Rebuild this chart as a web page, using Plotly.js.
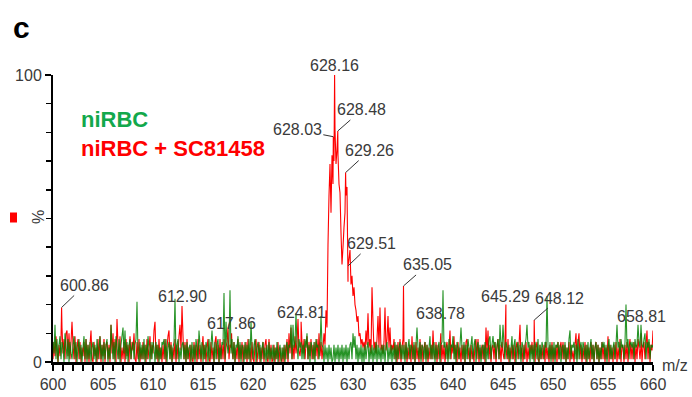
<!DOCTYPE html>
<html>
<head>
<meta charset="utf-8">
<script src="https://cdn.plot.ly/plotly-3.0.1.min.js"></script>
<style>
  html, body { margin: 0; padding: 0; background: #ffffff; }
  #chart { width: 692px; height: 397px; }
</style>
</head>
<body>
<div id="chart"></div>
<script>
// Profile spectra sampled every 0.1 m/z from 600.0 to 660.0 (relative intensity, %)
const MZ_START = 600;
const MZ_STEP = 0.1;

// niRBC + SC81458 (red trace); one line per m/z unit, values at .0 .. .9
const redIntensity = [
  1,7,2,9,4,0,6,2,8,12,      // 600
  3,8,1,10,11,2,10,1,7,14,   // 601
  6,1,9,0,5,8,1,7,0,5,       // 602
  2,7,0,8,1,6,0,6,11,1,      // 603
  0,7,2,5,0,8,1,9,0,6,       // 604
  2,8,0,6,7,1,6,0,13,3,      // 605
  10,1,8,0,15,6,1,9,0,5,     // 606
  1,7,0,8,2,6,0,9,1,7,       // 607
  4,10,1,0,7,1,8,0,5,1,      // 608
  7,1,6,0,8,1,5,9,1,6,       // 609
  3,11,14,1,6,0,8,1,5,0,     // 610
  6,1,8,0,5,9,11,1,7,0,      // 611
  5,1,8,0,6,1,9,13,4,20,     // 612
  9,1,7,0,8,1,5,0,6,1,       // 613
  0,7,1,6,0,8,1,6,0,5,       // 614
  9,1,6,0,5,8,1,0,7,1,       // 615
  5,0,7,9,1,6,0,8,1,6,       // 616
  1,8,0,5,7,12,1,6,5,4,      // 617
  1,7,0,5,1,8,0,6,1,7,       // 618
  0,6,1,7,0,8,1,5,0,7,       // 619
  1,0,6,8,0,4,7,0,5,1,       // 620
  7,0,6,8,1,0,8,1,6,0,       // 621
  1,6,0,5,1,7,0,5,1,0,       // 622
  5,0,6,1,8,0,10,3,12,1,     // 623
  6,1,9,3,7,15,4,2,6,7,      // 624
  3,8,1,6,9,1,7,2,8,1,       // 625
  6,1,7,2,8,1,10,2,7,1,      // 626
  5,10,6,18,12,41,58,69,52,72,   // 627
  62,70,81,69,74,72,62,59,45,34, // 628
  40,47,52,58,61,28,36,39,27,30, // 629
  23,26,20,18,14,16,9,10,6,8,    // 630
  5,7,4,11,6,17,5,8,3,26,    // 631
  14,4,7,3,8,16,5,19,4,6,    // 632
  3,7,19,4,8,16,5,12,3,6,    // 633
  4,8,1,6,0,7,1,8,0,5,       // 634
  8,4,1,7,0,5,1,6,0,9,       // 635
  1,6,0,7,1,5,0,8,1,6,       // 636
  0,5,7,1,6,0,5,1,6,1,       // 637
  11,3,1,7,0,6,1,5,0,6,      // 638
  1,6,0,5,7,1,5,11,1,6,      // 639
  3,9,1,6,0,7,1,5,0,6,       // 640
  1,6,0,7,8,1,5,0,6,1,       // 641
  4,0,6,8,1,8,0,5,1,6,       // 642
  1,6,0,12,3,11,1,6,0,5,     // 643
  6,1,7,0,5,8,1,6,0,7,       // 644
  3,1,7,5,1,8,0,5,1,6,       // 645
  1,6,0,5,7,1,6,13,1,5,      // 646
  0,6,1,7,0,5,1,6,3,7,       // 647
  1,6,0,5,7,1,0,6,1,5,       // 648
  1,6,0,7,1,5,0,6,1,7,       // 649
  0,5,1,6,0,7,1,5,7,1,       // 650
  7,1,6,0,5,1,7,0,6,1,       // 651
  4,0,6,10,1,7,10,1,6,0,     // 652
  5,1,7,0,6,1,5,0,7,1,       // 653
  6,0,5,7,1,6,0,5,1,7,       // 654
  1,6,0,5,1,9,0,6,1,5,       // 655
  0,6,1,7,0,5,1,8,0,6,       // 656
  5,0,6,1,7,0,5,8,1,6,       // 657
  1,7,0,6,1,8,5,1,6,0,       // 658
  5,7,1,6,11,1,7,0,6,4,      // 659
  11                          // 660
];

// niRBC (green trace)
const greenIntensity = [
  7,3,13,1,8,0,6,9,1,7,      // 600
  5,0,10,6,1,8,0,7,3,1,      // 601
  6,9,1,7,0,5,8,1,6,0,       // 602
  5,9,1,8,0,6,1,7,0,5,       // 603
  7,1,6,0,8,1,5,9,1,6,       // 604
  0,7,1,6,8,0,5,1,13,6,      // 605
  1,7,0,9,5,1,8,0,6,9,       // 606
  12,3,11,1,7,0,6,8,1,5,     // 607
  7,1,6,8,21,3,0,7,1,6,      // 608
  1,8,0,6,1,9,5,0,7,1,       // 609
  7,5,0,7,1,6,0,5,1,7,       // 610
  6,8,1,8,0,5,7,1,6,0,       // 611
  5,7,22,1,6,8,0,5,1,6,      // 612
  7,1,6,0,7,1,5,6,0,7,       // 613
  1,6,0,8,5,1,11,6,1,7,      // 614
  0,6,1,7,5,0,8,1,6,11,      // 615
  5,0,7,1,6,8,0,5,1,7,       // 616
  6,24,1,14,7,3,6,25,3,8,    // 617
  1,7,0,6,5,9,1,7,0,6,       // 618
  5,0,7,1,6,1,8,0,14,5,      // 619
  1,6,8,0,5,7,1,6,0,5,       // 620
  7,1,5,0,6,1,7,0,5,1,       // 621
  6,0,5,1,7,0,4,6,0,5,       // 622
  1,6,0,5,7,1,6,5,13,1,      // 623
  13,5,7,17,6,1,8,5,7,1,     // 624
  6,1,8,5,10,1,6,0,7,5,      // 625
  1,7,0,8,5,6,1,5,16,6,      // 626
  5,0,6,1,5,0,6,1,5,0,       // 627
  1,6,0,5,1,6,0,5,1,6,       // 628
  0,5,1,6,0,5,1,6,7,1,       // 629
  10,5,9,1,6,0,5,1,6,0,      // 630
  5,0,6,1,5,7,0,5,1,6,       // 631
  0,5,1,7,0,6,1,5,0,6,       // 632
  1,6,0,5,7,0,5,1,6,0,       // 633
  5,1,7,0,6,1,5,7,1,6,       // 634
  1,6,0,7,1,5,8,1,6,5,       // 635
  1,7,0,6,12,5,1,7,0,6,      // 636
  5,1,7,0,6,1,5,9,1,6,       // 637
  1,7,0,6,1,5,7,0,6,7,       // 638
  25,5,7,1,6,0,8,1,6,5,      // 639
  9,1,6,0,7,5,1,6,12,5,      // 640
  1,7,0,6,1,8,5,0,6,9,       // 641
  1,6,8,0,5,7,1,6,0,5,       // 642
  6,1,7,0,5,1,8,9,1,6,       // 643
  9,5,7,1,6,8,1,13,6,5,      // 644
  13,6,1,7,5,1,6,0,5,9,      // 645
  1,6,8,0,5,7,1,6,0,7,       // 646
  5,1,6,8,13,5,7,0,6,1,      // 647
  6,0,7,5,1,8,0,6,1,7,       // 648
  5,1,7,5,23,6,1,7,0,6,      // 649
  1,7,0,6,5,7,1,6,0,5,       // 650
  6,1,7,0,5,1,8,11,1,6,      // 651
  5,7,1,6,0,8,1,5,7,1,       // 652
  7,5,1,6,0,7,1,5,8,1,       // 653
  6,0,5,7,1,6,0,5,1,7,       // 654
  5,7,1,6,0,5,8,1,6,1,       // 655
  5,7,1,6,13,5,7,1,8,5,      // 656
  6,1,7,20,5,8,1,6,7,5,      // 657
  7,1,8,5,6,13,7,5,13,6,     // 658
  5,8,10,1,7,5,8,1,6,5,      // 659
  6                           // 660
];

// Centroided peaks annotated on the red trace
const peakMz        = [600.86, 612.90, 617.86, 624.81, 628.03, 628.16, 628.48, 629.26, 629.51, 635.05, 638.78, 645.29, 648.12, 658.81];
const peakIntensity = [19,     19.5,   10,     14,     78.5,   100,    80.5,   66,     33.5,   26.5,   10,     20,     14.6,   10];

const xTickValues = [600, 605, 610, 615, 620, 625, 630, 635, 640, 645, 650, 655, 660];
const xTickLabels = ['600', '605', '610', '615', '620', '625', '630', '635', '640', '645', '650', '655', '660'];
const yTickValues = [0, 100];
const yTickLabels = ['0', '100'];

// Label placement: leader-line offset [ax, ay] in px, or a vertical shift for labels set on top of the peak
const labelPlacement = {
  '600.86': { ax: 23, ay: -22 },
  '612.90': { yshift: -1 },
  '617.86': { yshift: -1 },
  '624.81': { yshift: -1 },
  '628.03': { ax: -36, ay: -7 },
  '628.16': { yshift: -1 },
  '628.48': { ax: 24, ay: -21 },
  '629.26': { ax: 24, ay: -22 },
  '629.51': { ax: 23, ay: -22 },
  '635.05': { ax: 24, ay: -21 },
  '638.78': { yshift: 9 },
  '645.29': { yshift: -2 },
  '648.12': { ax: 25, ay: -22 },
  '658.81': { yshift: 6 }
};

function gridMz(n) {
  const xs = [];
  for (let i = 0; i < n; i++) xs.push(Math.round((MZ_START + i * MZ_STEP) * 100) / 100);
  return xs;
}

// merge sampled profile with the annotated centroid points
function buildProfile(values, extraMz, extraInt) {
  const pts = gridMz(values.length).map((x, i) => [x, values[i]]);
  if (extraMz) {
    extraMz.forEach((m, k) => {
      const same = pts.findIndex(p => Math.abs(p[0] - m) < 1e-6);
      if (same >= 0) pts[same][1] = extraInt[k];
      else pts.push([m, extraInt[k]]);
    });
  }
  pts.sort((a, b) => a[0] - b[0]);
  return { x: pts.map(p => p[0]), y: pts.map(p => p[1]) };
}

const red = buildProfile(redIntensity, peakMz, peakIntensity);
const green = buildProfile(greenIntensity);

const FONT = 'Liberation Sans, Arial, sans-serif';
const TEXT_GREY = '#3a3a3a';

const traces = [
  {
    type: 'scatter', mode: 'lines', x: red.x, y: red.y,
    line: { color: '#ff0000', width: 1.1, simplify: false },
    hoverinfo: 'skip', showlegend: false
  },
  {
    type: 'scatter', mode: 'lines', x: green.x, y: green.y,
    line: { color: 'rgba(0,128,0,0.85)', width: 1.1, simplify: false },
    hoverinfo: 'skip', showlegend: false
  }
];

const annotations = peakMz.map((m, k) => {
  const label = m.toFixed(2);
  const p = labelPlacement[label];
  const base = {
    x: m, y: peakIntensity[k], xref: 'x', yref: 'y', text: label,
    font: { family: FONT, size: 16, color: TEXT_GREY }
  };
  if (p.ax !== undefined) {
    return Object.assign(base, {
      showarrow: true, ax: p.ax, ay: p.ay, arrowhead: 0, arrowwidth: 1,
      arrowcolor: '#333333', standoff: 0
    });
  }
  return Object.assign(base, { showarrow: false, yanchor: 'bottom', yshift: p.yshift });
});

annotations.push(
  { xref: 'paper', yref: 'paper', x: 0, y: 1, xanchor: 'left', yanchor: 'middle',
    xshift: -42, yshift: 48, showarrow: false, text: '<b>c</b>',
    font: { family: FONT, size: 30, color: '#000000' } },
  { xref: 'paper', yref: 'paper', x: 0, y: 1, xanchor: 'left', yanchor: 'middle',
    xshift: 26, yshift: -44, showarrow: false, text: '<b>niRBC</b>',
    font: { family: FONT, size: 22, color: '#12a84c' } },
  { xref: 'paper', yref: 'paper', x: 0, y: 1, xanchor: 'left', yanchor: 'middle',
    xshift: 26, yshift: -73, showarrow: false, text: '<b>niRBC + SC81458</b>',
    font: { family: FONT, size: 22, color: '#ff0000' } },
  { xref: 'paper', yref: 'paper', x: 0, y: 0.505, xanchor: 'center', yanchor: 'middle',
    xshift: -15, showarrow: false, text: '%', textangle: -90,
    font: { family: FONT, size: 16, color: TEXT_GREY } },
  { xref: 'paper', yref: 'paper', x: 1, y: 0, xanchor: 'left', yanchor: 'middle',
    xshift: 7, yshift: -3, showarrow: false, text: 'm/z',
    font: { family: FONT, size: 16, color: TEXT_GREY } }
);

const layout = {
  width: 692, height: 397,
  margin: { l: 53, r: 39, t: 75, b: 35, pad: 0 },
  paper_bgcolor: '#ffffff', plot_bgcolor: '#ffffff',
  showlegend: false,
  xaxis: {
    range: [600, 660], showgrid: false, zeroline: false,
    showline: true, linecolor: '#000000', linewidth: 3,
    tickmode: 'array', tickvals: xTickValues, ticktext: xTickLabels,
    ticks: 'outside', ticklen: 6, tickwidth: 1.5, tickcolor: '#000000',
    minor: { dtick: 1, tick0: 600, ticks: 'outside', ticklen: 6, tickwidth: 1.5, tickcolor: '#000000', showgrid: false },
    tickfont: { family: FONT, size: 16, color: TEXT_GREY }
  },
  yaxis: {
    range: [0, 100], showgrid: false, zeroline: false,
    showline: true, linecolor: '#000000', linewidth: 2,
    tickmode: 'array', tickvals: yTickValues, ticktext: yTickLabels,
    ticks: 'outside', ticklen: 6, tickwidth: 1.5, tickcolor: '#000000',
    minor: { dtick: 10, tick0: 0, ticks: 'outside', ticklen: 5, tickwidth: 1.5, tickcolor: '#000000', showgrid: false },
    tickfont: { family: FONT, size: 16, color: TEXT_GREY }
  },
  shapes: [
    { type: 'rect', xref: 'paper', yref: 'paper',
      xsizemode: 'pixel', ysizemode: 'pixel', xanchor: 0, yanchor: 0.5,
      x0: -43, x1: -36, y0: -4, y1: 6,
      fillcolor: '#ff0000', line: { width: 0 } }
  ],
  annotations: annotations
};

Plotly.newPlot('chart', traces, layout, { staticPlot: true, displayModeBar: false });
</script>
</body>
</html>
